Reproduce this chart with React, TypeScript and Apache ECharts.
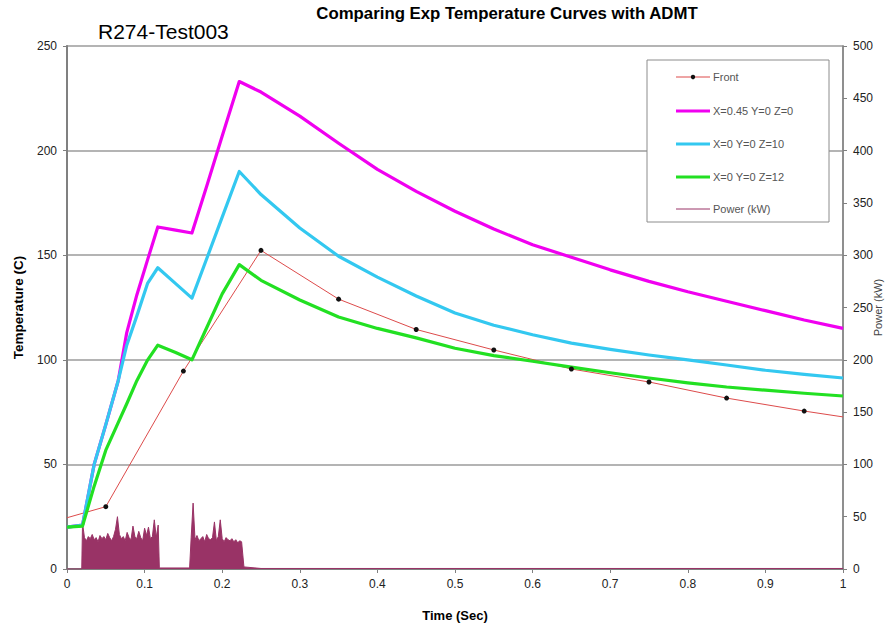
import React, { useEffect, useRef } from "react";
import * as echarts from "echarts";

const xTicks = [0, 0.1, 0.2, 0.3, 0.4, 0.5, 0.6, 0.7, 0.8, 0.9, 1];

const simTime = [0, 0.02, 0.035, 0.05, 0.066, 0.077, 0.09, 0.104, 0.117, 0.14, 0.161, 0.18, 0.2, 0.222, 0.25, 0.3, 0.35, 0.4, 0.45, 0.5, 0.55, 0.6, 0.65, 0.7, 0.75, 0.8, 0.85, 0.9, 0.95, 1.0];
const pinkTemp = [20, 21, 50, 69, 90, 113, 131, 148, 163.5, 162, 160.6, 183, 207, 233, 228, 216.5, 203.5, 191, 180.5, 171, 162.5, 155, 149, 143, 137.5, 132.5, 128, 123.5, 119, 115];
const cyanTemp = [20, 21, 50, 69, 90, 107, 121, 136.7, 144, 136.4, 129.5, 148.3, 168.2, 190, 179, 163, 149.5, 139.5, 130.5, 122.4, 116.5, 112, 108, 105, 102.3, 100, 97.5, 95, 93, 91.3];
const greenTemp = [20, 20.5, 39.6, 56.8, 70, 79, 90, 100, 107, 103.5, 100, 115.3, 131.5, 145.5, 138, 128.6, 120.5, 115, 110.5, 105.5, 102, 99.3, 96.5, 93.8, 91.3, 89, 87, 85.5, 84, 82.7];

const frontTime = [0, 0.05, 0.15, 0.25, 0.35, 0.45, 0.55, 0.65, 0.75, 0.85, 0.95, 1.0];
const frontTemp = [24.5, 29.8, 94.6, 152.3, 129, 114.5, 104.7, 95.6, 89.4, 81.7, 75.5, 72.7];

const burst1Start = 0.02;
const burst2Start = 0.16;
const powerStep = 0.0025;
const burst1Power = [44, 30, 27, 31, 29, 33, 28, 30, 26, 32, 29, 31, 28, 34, 30, 27, 31, 38, 50, 33, 29, 31, 27, 35, 30, 28, 41, 31, 29, 36, 30, 27, 39, 32, 40, 29, 31, 47, 30, 42];
const burst2Power = [30, 63, 28, 32, 27, 29, 31, 26, 33, 29, 28, 30, 45, 27, 31, 47, 29, 26, 30, 28, 27, 29, 26, 28, 25, 27, 26];
const idlePowerTime = [0, 0.019, 0.119, 0.158, 0.228, 0.25, 1.0];
const idlePower = [0, 0, 1, 1, 2, 0.5, 0.5];

const seriesNames = ["Front", "X=0.45 Y=0 Z=0", "X=0 Y=0 Z=10", "X=0 Y=0 Z=12", "Power (kW)"];
const seriesColors = ["#DD4B4B", "#F000F0", "#33C8F0", "#22E022", "#993366"];
const seriesWidths = [1, 3.2, 3.2, 3.2, 1];

function buildPower(): number[][] {
  const pts: number[][] = [];
  pts.push([idlePowerTime[0], idlePower[0]]);
  pts.push([idlePowerTime[1], idlePower[1]]);
  burst1Power.forEach((v, i) => pts.push([burst1Start + i * powerStep, v]));
  pts.push([idlePowerTime[2], idlePower[2]]);
  pts.push([idlePowerTime[3], idlePower[3]]);
  burst2Power.forEach((v, i) => pts.push([burst2Start + i * powerStep, v]));
  for (let i = 4; i < idlePowerTime.length; i++) pts.push([idlePowerTime[i], idlePower[i]]);
  return pts;
}

const FONT = "Liberation Sans, Arial, sans-serif";

export default function App() {
  const ref = useRef<HTMLDivElement>(null);
  useEffect(() => {
    if (!ref.current) return;
    const chart = echarts.init(ref.current, null, { renderer: "svg", width: 893, height: 628 });
    const pair = (t: number[], v: number[]) => t.map((x, i) => [x, v[i]]);
    const frontData = frontTime.map((t, i) => {
      const d: any = { value: [t, frontTemp[i]] };
      if (i === 0 || i === frontTime.length - 1) d.symbol = "none";
      return d;
    });

    const legendRowsY = [77, 111, 144, 177, 209];
    const legendGraphics: any[] = [
      {
        type: "rect",
        shape: { x: 647, y: 60, width: 182, height: 162 },
        style: { fill: "#fff", stroke: "#8c8c8c", lineWidth: 1 },
        z: 50,
      },
    ];
    seriesNames.forEach((name, i) => {
      const y = legendRowsY[i];
      legendGraphics.push({
        type: "line",
        shape: { x1: 676, y1: y, x2: 710, y2: y },
        style: { stroke: seriesColors[i], lineWidth: seriesWidths[i] },
        z: 51,
      });
      if (i === 0) {
        legendGraphics.push({
          type: "circle",
          shape: { cx: 693, cy: y, r: 2.2 },
          style: { fill: "#111" },
          z: 52,
        });
      }
      legendGraphics.push({
        type: "text",
        x: 713,
        y: y,
        style: {
          text: name,
          fill: "#555",
          font: `11px ${FONT}`,
          verticalAlign: "middle",
          align: "left",
        },
        z: 52,
      });
    });

    chart.setOption({
      animation: false,
      backgroundColor: "#ffffff",
      textStyle: { fontFamily: FONT },
      title: [
        {
          text: "Comparing Exp Temperature Curves with ADMT",
          left: 507,
          top: 5,
          padding: 0,
          textAlign: "center",
          textStyle: { fontSize: 16.8, fontWeight: "bold", color: "#000", fontFamily: FONT },
        },
        {
          text: "R274-Test003",
          left: 98,
          top: 21,
          padding: 0,
          textStyle: { fontSize: 21, fontWeight: "normal", color: "#000", fontFamily: FONT },
        },
      ],
      grid: {
        left: 67,
        right: 50,
        top: 46,
        bottom: 59,
        show: true,
        borderColor: "#A8A8A8",
        borderWidth: 1.5,
        containLabel: false,
        outerBoundsMode: "none",
      },
      graphic: legendGraphics,
      xAxis: {
        type: "value",
        min: 0,
        max: 1,
        interval: 0.1,
        name: "Time (Sec)",
        nameLocation: "middle",
        nameGap: 40,
        nameMoveOverlap: false,
        nameTextStyle: { fontSize: 13, fontWeight: "bold", color: "#000" },
        axisLine: { show: true, lineStyle: { color: "#808080", width: 2 } },
        axisTick: { show: true, length: 4, lineStyle: { color: "#808080" } },
        axisLabel: {
          fontSize: 12,
          color: "#222",
          margin: 9,
          formatter: (v: number) => (xTicks.includes(Math.round(v * 10) / 10) ? String(Math.round(v * 10) / 10) : ""),
        },
        splitLine: { show: false },
      },
      yAxis: [
        {
          type: "value",
          min: 0,
          max: 250,
          interval: 50,
          name: "Temperature (C)",
          nameLocation: "middle",
          nameRotate: 90,
          nameGap: 42,
          nameMoveOverlap: false,
          nameTextStyle: { fontSize: 13.5, fontWeight: "bold", color: "#000" },
          axisLine: { show: true, lineStyle: { color: "#808080", width: 2 } },
          axisTick: { show: true, length: 4, lineStyle: { color: "#808080" } },
          axisLabel: { fontSize: 12, color: "#222", margin: 10 },
          splitLine: { show: true, lineStyle: { color: "#B4B4B4", width: 2 } },
        },
        {
          type: "value",
          min: 0,
          max: 500,
          interval: 50,
          position: "right",
          name: "Power (kW)",
          nameLocation: "middle",
          nameRotate: 90,
          nameGap: 29,
          nameMoveOverlap: false,
          nameTextStyle: { fontSize: 11, color: "#444" },
          axisLine: { show: true, lineStyle: { color: "#808080", width: 1.5 } },
          axisTick: { show: true, length: 4, lineStyle: { color: "#808080" } },
          axisLabel: { fontSize: 12, color: "#222", margin: 10 },
          splitLine: { show: false },
        },
      ],
      series: [
        {
          name: seriesNames[4],
          type: "line",
          yAxisIndex: 1,
          data: buildPower(),
          symbol: "none",
          z: 1,
          lineStyle: { color: seriesColors[4], width: 1 },
          itemStyle: { color: seriesColors[4] },
          areaStyle: { color: seriesColors[4], opacity: 1 },
        },
        {
          name: seriesNames[0],
          type: "line",
          data: frontData,
          symbol: "circle",
          symbolSize: 5,
          z: 3,
          lineStyle: { color: seriesColors[0], width: 1 },
          itemStyle: { color: "#111" },
        },
        {
          name: seriesNames[1],
          type: "line",
          data: pair(simTime, pinkTemp),
          symbol: "none",
          lineStyle: { color: seriesColors[1], width: seriesWidths[1], join: "round" },
        },
        {
          name: seriesNames[2],
          type: "line",
          data: pair(simTime, cyanTemp),
          symbol: "none",
          lineStyle: { color: seriesColors[2], width: seriesWidths[2], join: "round" },
        },
        {
          name: seriesNames[3],
          type: "line",
          data: pair(simTime, greenTemp),
          symbol: "none",
          lineStyle: { color: seriesColors[3], width: seriesWidths[3], join: "round" },
        },
      ],
    });
    return () => chart.dispose();
  }, []);
  return <div ref={ref} style={{ width: 893, height: 628, position: "absolute", left: 0, top: 0 }} />;
}
